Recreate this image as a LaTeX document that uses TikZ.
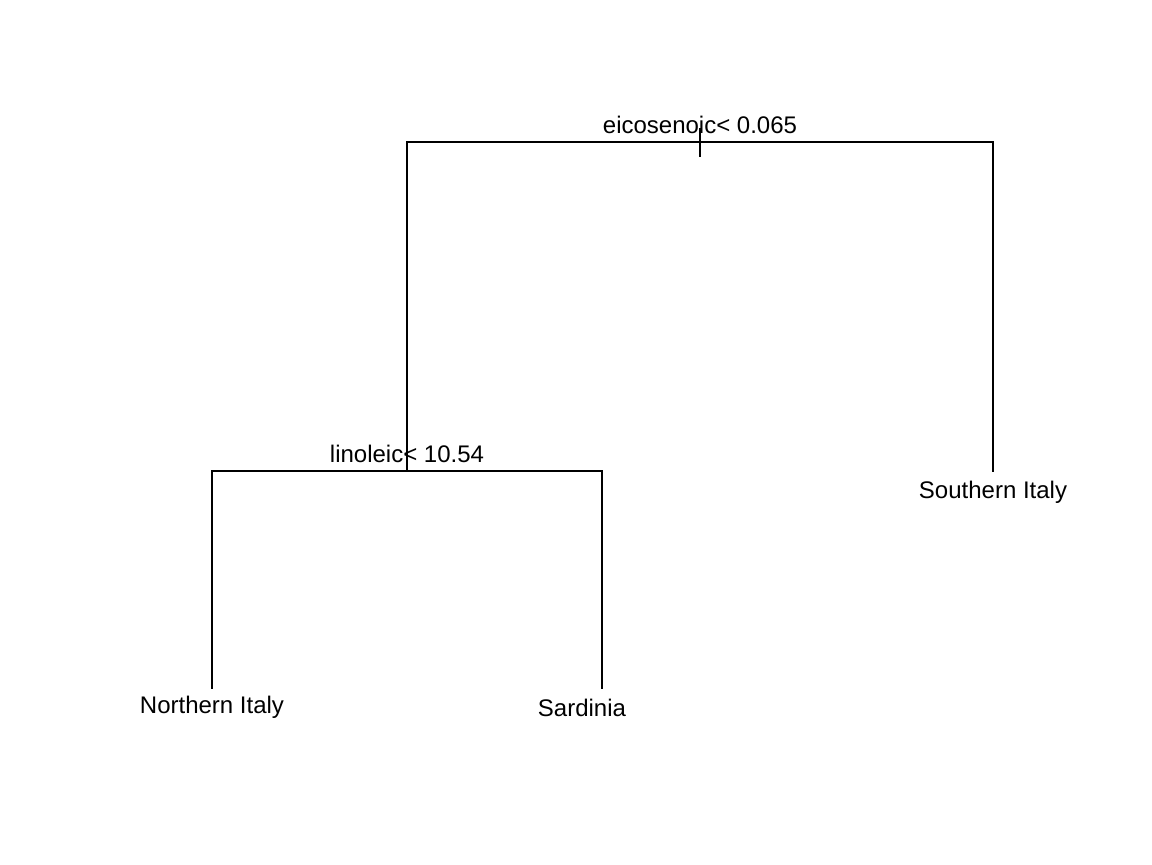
\documentclass[tikz,border=0pt]{standalone}
\usepackage{fontspec}
\setmainfont{Liberation Sans}
\begin{document}
\begin{tikzpicture}[x=0.75pt,y=-0.75pt,
  edge/.style={line width=1.5pt,line cap=rect},
  lbl/.style={font=\fontsize{18pt}{21pt}\selectfont,inner sep=0pt,anchor=base}]
\useasboundingbox (0,0) rectangle (1152,864);
\coordinate (root) at (700,142);
\coordinate (rl) at (407,142);
\coordinate (rr) at (993,142);
\coordinate (n2) at (407,471);
\coordinate (n2l) at (212,471);
\coordinate (n2r) at (602,471);
\coordinate (leafN) at (212,688);
\coordinate (leafS) at (602,688);
\coordinate (leafSo) at (993,471);
\coordinate (tickT) at (700,128);
\coordinate (tickB) at (700,157);
\draw[edge] (rl) -- (rr);
\draw[edge] (rl) -- (n2);
\draw[edge] (rr) -- (leafSo);
\draw[edge] (n2l) -- (n2r);
\draw[edge] (n2l) -- (leafN);
\draw[edge] (n2r) -- (leafS);
\draw[edge,line cap=butt] (tickT) -- (tickB);
\node[lbl] (t1) at (700,133) {eicosenoic< 0.065};
\node[lbl] (t2) at (407,462) {linoleic< 10.54};
\node[lbl] (t3) at (212,713) {Northern Italy};
\node[lbl] (t4) at (582,716) {Sardinia};
\node[lbl] (t5) at (993,498) {Southern Italy};
\end{tikzpicture}
\end{document}
